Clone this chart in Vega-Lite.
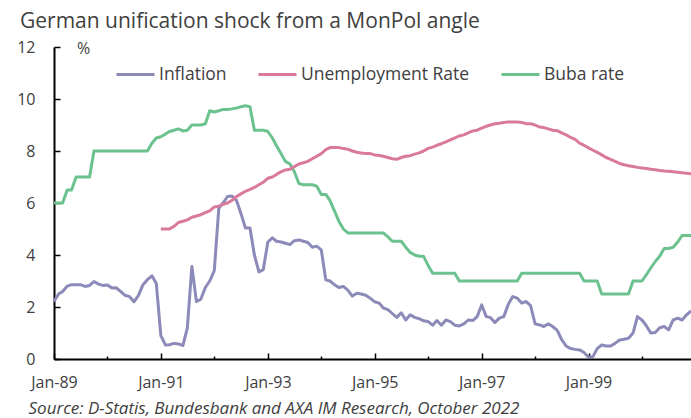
{
  "$schema": "https://vega.github.io/schema/vega-lite/v6.json",
  "width": 637,
  "height": 312,
  "autosize": "none",
  "padding": {"left": 54, "top": 47, "right": 0, "bottom": 59},
  "background": "white",
  "title": {
    "text": "German unification shock from a MonPol angle",
    "anchor": "start",
    "frame": "group",
    "dx": -34,
    "offset": 7,
    "font": "Open Sans",
    "fontSize": 21,
    "fontWeight": "normal",
    "color": "#404040"
  },
  "data": {
    "values": [
      {"d":"1989-01-01","Inflation":2.21,"Buba rate":6.0},
      {"d":"1989-02-01","Inflation":2.5,"Buba rate":6.0},
      {"d":"1989-03-01","Inflation":2.6,"Buba rate":6.0},
      {"d":"1989-04-01","Inflation":2.8,"Buba rate":6.5},
      {"d":"1989-05-01","Inflation":2.86,"Buba rate":6.5},
      {"d":"1989-06-01","Inflation":2.86,"Buba rate":7.0},
      {"d":"1989-07-01","Inflation":2.86,"Buba rate":7.0},
      {"d":"1989-08-01","Inflation":2.79,"Buba rate":7.0},
      {"d":"1989-09-01","Inflation":2.83,"Buba rate":7.0},
      {"d":"1989-10-01","Inflation":2.98,"Buba rate":8.0},
      {"d":"1989-11-01","Inflation":2.88,"Buba rate":8.0},
      {"d":"1989-12-01","Inflation":2.83,"Buba rate":8.0},
      {"d":"1990-01-01","Inflation":2.85,"Buba rate":8.0},
      {"d":"1990-02-01","Inflation":2.73,"Buba rate":8.0},
      {"d":"1990-03-01","Inflation":2.74,"Buba rate":8.0},
      {"d":"1990-04-01","Inflation":2.6,"Buba rate":8.0},
      {"d":"1990-05-01","Inflation":2.45,"Buba rate":8.0},
      {"d":"1990-06-01","Inflation":2.4,"Buba rate":8.0},
      {"d":"1990-07-01","Inflation":2.2,"Buba rate":8.0},
      {"d":"1990-08-01","Inflation":2.45,"Buba rate":8.0},
      {"d":"1990-09-01","Inflation":2.86,"Buba rate":8.0},
      {"d":"1990-10-01","Inflation":3.05,"Buba rate":8.0},
      {"d":"1990-11-01","Inflation":3.2,"Buba rate":8.3},
      {"d":"1990-12-01","Inflation":2.9,"Buba rate":8.5},
      {"d":"1991-01-01","Inflation":0.9,"Unemployment Rate":5.0,"Buba rate":8.55},
      {"d":"1991-02-01","Inflation":0.54,"Unemployment Rate":5.0,"Buba rate":8.65},
      {"d":"1991-03-01","Inflation":0.55,"Unemployment Rate":5.0,"Buba rate":8.75},
      {"d":"1991-04-01","Inflation":0.6,"Unemployment Rate":5.1,"Buba rate":8.8},
      {"d":"1991-05-01","Inflation":0.58,"Unemployment Rate":5.25,"Buba rate":8.85},
      {"d":"1991-06-01","Inflation":0.52,"Unemployment Rate":5.3,"Buba rate":8.77},
      {"d":"1991-07-01","Inflation":1.2,"Unemployment Rate":5.35,"Buba rate":8.8},
      {"d":"1991-08-01","Inflation":3.56,"Unemployment Rate":5.45,"Buba rate":9.0},
      {"d":"1991-09-01","Inflation":2.21,"Unemployment Rate":5.5,"Buba rate":9.0},
      {"d":"1991-10-01","Inflation":2.3,"Unemployment Rate":5.55,"Buba rate":9.0},
      {"d":"1991-11-01","Inflation":2.75,"Unemployment Rate":5.63,"Buba rate":9.05},
      {"d":"1991-12-01","Inflation":3.0,"Unemployment Rate":5.7,"Buba rate":9.55},
      {"d":"1992-01-01","Inflation":3.4,"Unemployment Rate":5.85,"Buba rate":9.5},
      {"d":"1992-02-01","Inflation":5.8,"Unemployment Rate":5.88,"Buba rate":9.55},
      {"d":"1992-03-01","Inflation":6.0,"Unemployment Rate":5.95,"Buba rate":9.6},
      {"d":"1992-04-01","Inflation":6.25,"Unemployment Rate":6.0,"Buba rate":9.6},
      {"d":"1992-05-01","Inflation":6.27,"Unemployment Rate":6.1,"Buba rate":9.62},
      {"d":"1992-06-01","Inflation":6.1,"Unemployment Rate":6.25,"Buba rate":9.65},
      {"d":"1992-07-01","Inflation":5.6,"Unemployment Rate":6.35,"Buba rate":9.7},
      {"d":"1992-08-01","Inflation":5.04,"Unemployment Rate":6.45,"Buba rate":9.74},
      {"d":"1992-09-01","Inflation":5.04,"Unemployment Rate":6.52,"Buba rate":9.7},
      {"d":"1992-10-01","Inflation":4.0,"Unemployment Rate":6.6,"Buba rate":8.8},
      {"d":"1992-11-01","Inflation":3.35,"Unemployment Rate":6.7,"Buba rate":8.8},
      {"d":"1992-12-01","Inflation":3.44,"Unemployment Rate":6.8,"Buba rate":8.8},
      {"d":"1993-01-01","Inflation":4.5,"Unemployment Rate":6.95,"Buba rate":8.75},
      {"d":"1993-02-01","Inflation":4.66,"Unemployment Rate":7.0,"Buba rate":8.5},
      {"d":"1993-03-01","Inflation":4.53,"Unemployment Rate":7.1,"Buba rate":8.2},
      {"d":"1993-04-01","Inflation":4.5,"Unemployment Rate":7.2,"Buba rate":7.9},
      {"d":"1993-05-01","Inflation":4.45,"Unemployment Rate":7.27,"Buba rate":7.6},
      {"d":"1993-06-01","Inflation":4.4,"Unemployment Rate":7.3,"Buba rate":7.5},
      {"d":"1993-07-01","Inflation":4.55,"Unemployment Rate":7.4,"Buba rate":7.2},
      {"d":"1993-08-01","Inflation":4.58,"Unemployment Rate":7.5,"Buba rate":6.75},
      {"d":"1993-09-01","Inflation":4.53,"Unemployment Rate":7.55,"Buba rate":6.7},
      {"d":"1993-10-01","Inflation":4.48,"Unemployment Rate":7.6,"Buba rate":6.7},
      {"d":"1993-11-01","Inflation":4.3,"Unemployment Rate":7.7,"Buba rate":6.7},
      {"d":"1993-12-01","Inflation":4.34,"Unemployment Rate":7.8,"Buba rate":6.65},
      {"d":"1994-01-01","Inflation":4.2,"Unemployment Rate":7.9,"Buba rate":6.33},
      {"d":"1994-02-01","Inflation":3.05,"Unemployment Rate":8.05,"Buba rate":6.33},
      {"d":"1994-03-01","Inflation":3.0,"Unemployment Rate":8.13,"Buba rate":6.1},
      {"d":"1994-04-01","Inflation":2.86,"Unemployment Rate":8.13,"Buba rate":5.7},
      {"d":"1994-05-01","Inflation":2.75,"Unemployment Rate":8.13,"Buba rate":5.3},
      {"d":"1994-06-01","Inflation":2.79,"Unemployment Rate":8.1,"Buba rate":5.0},
      {"d":"1994-07-01","Inflation":2.65,"Unemployment Rate":8.07,"Buba rate":4.85},
      {"d":"1994-08-01","Inflation":2.42,"Unemployment Rate":8.0,"Buba rate":4.85},
      {"d":"1994-09-01","Inflation":2.53,"Unemployment Rate":7.95,"Buba rate":4.85},
      {"d":"1994-10-01","Inflation":2.5,"Unemployment Rate":7.92,"Buba rate":4.85},
      {"d":"1994-11-01","Inflation":2.45,"Unemployment Rate":7.9,"Buba rate":4.85},
      {"d":"1994-12-01","Inflation":2.34,"Unemployment Rate":7.9,"Buba rate":4.85},
      {"d":"1995-01-01","Inflation":2.2,"Unemployment Rate":7.85,"Buba rate":4.85},
      {"d":"1995-02-01","Inflation":2.15,"Unemployment Rate":7.83,"Buba rate":4.85},
      {"d":"1995-03-01","Inflation":1.96,"Unemployment Rate":7.8,"Buba rate":4.85},
      {"d":"1995-04-01","Inflation":1.9,"Unemployment Rate":7.75,"Buba rate":4.7},
      {"d":"1995-05-01","Inflation":1.75,"Unemployment Rate":7.7,"Buba rate":4.53},
      {"d":"1995-06-01","Inflation":1.6,"Unemployment Rate":7.68,"Buba rate":4.53},
      {"d":"1995-07-01","Inflation":1.78,"Unemployment Rate":7.75,"Buba rate":4.53},
      {"d":"1995-08-01","Inflation":1.5,"Unemployment Rate":7.8,"Buba rate":4.3},
      {"d":"1995-09-01","Inflation":1.7,"Unemployment Rate":7.82,"Buba rate":4.1},
      {"d":"1995-10-01","Inflation":1.6,"Unemployment Rate":7.88,"Buba rate":4.0},
      {"d":"1995-11-01","Inflation":1.55,"Unemployment Rate":7.93,"Buba rate":3.95},
      {"d":"1995-12-01","Inflation":1.47,"Unemployment Rate":8.0,"Buba rate":3.95},
      {"d":"1996-01-01","Inflation":1.44,"Unemployment Rate":8.1,"Buba rate":3.6},
      {"d":"1996-02-01","Inflation":1.3,"Unemployment Rate":8.15,"Buba rate":3.3},
      {"d":"1996-03-01","Inflation":1.48,"Unemployment Rate":8.22,"Buba rate":3.3},
      {"d":"1996-04-01","Inflation":1.3,"Unemployment Rate":8.28,"Buba rate":3.3},
      {"d":"1996-05-01","Inflation":1.5,"Unemployment Rate":8.35,"Buba rate":3.3},
      {"d":"1996-06-01","Inflation":1.44,"Unemployment Rate":8.43,"Buba rate":3.3},
      {"d":"1996-07-01","Inflation":1.3,"Unemployment Rate":8.5,"Buba rate":3.3},
      {"d":"1996-08-01","Inflation":1.27,"Unemployment Rate":8.58,"Buba rate":3.0},
      {"d":"1996-09-01","Inflation":1.35,"Unemployment Rate":8.62,"Buba rate":3.0},
      {"d":"1996-10-01","Inflation":1.5,"Unemployment Rate":8.7,"Buba rate":3.0},
      {"d":"1996-11-01","Inflation":1.48,"Unemployment Rate":8.77,"Buba rate":3.0},
      {"d":"1996-12-01","Inflation":1.63,"Unemployment Rate":8.8,"Buba rate":3.0},
      {"d":"1997-01-01","Inflation":2.08,"Unemployment Rate":8.88,"Buba rate":3.0},
      {"d":"1997-02-01","Inflation":1.63,"Unemployment Rate":8.95,"Buba rate":3.0},
      {"d":"1997-03-01","Inflation":1.6,"Unemployment Rate":9.0,"Buba rate":3.0},
      {"d":"1997-04-01","Inflation":1.4,"Unemployment Rate":9.05,"Buba rate":3.0},
      {"d":"1997-05-01","Inflation":1.57,"Unemployment Rate":9.07,"Buba rate":3.0},
      {"d":"1997-06-01","Inflation":1.63,"Unemployment Rate":9.1,"Buba rate":3.0},
      {"d":"1997-07-01","Inflation":2.1,"Unemployment Rate":9.12,"Buba rate":3.0},
      {"d":"1997-08-01","Inflation":2.4,"Unemployment Rate":9.12,"Buba rate":3.0},
      {"d":"1997-09-01","Inflation":2.34,"Unemployment Rate":9.12,"Buba rate":3.0},
      {"d":"1997-10-01","Inflation":2.15,"Unemployment Rate":9.1,"Buba rate":3.3},
      {"d":"1997-11-01","Inflation":2.21,"Unemployment Rate":9.05,"Buba rate":3.3},
      {"d":"1997-12-01","Inflation":2.05,"Unemployment Rate":9.05,"Buba rate":3.3},
      {"d":"1998-01-01","Inflation":1.35,"Unemployment Rate":9.0,"Buba rate":3.3},
      {"d":"1998-02-01","Inflation":1.31,"Unemployment Rate":8.92,"Buba rate":3.3},
      {"d":"1998-03-01","Inflation":1.25,"Unemployment Rate":8.9,"Buba rate":3.3},
      {"d":"1998-04-01","Inflation":1.35,"Unemployment Rate":8.85,"Buba rate":3.3},
      {"d":"1998-05-01","Inflation":1.25,"Unemployment Rate":8.8,"Buba rate":3.3},
      {"d":"1998-06-01","Inflation":1.1,"Unemployment Rate":8.78,"Buba rate":3.3},
      {"d":"1998-07-01","Inflation":0.75,"Unemployment Rate":8.7,"Buba rate":3.3},
      {"d":"1998-08-01","Inflation":0.5,"Unemployment Rate":8.62,"Buba rate":3.3},
      {"d":"1998-09-01","Inflation":0.4,"Unemployment Rate":8.52,"Buba rate":3.3},
      {"d":"1998-10-01","Inflation":0.37,"Unemployment Rate":8.45,"Buba rate":3.3},
      {"d":"1998-11-01","Inflation":0.35,"Unemployment Rate":8.3,"Buba rate":3.3},
      {"d":"1998-12-01","Inflation":0.25,"Unemployment Rate":8.22,"Buba rate":3.0},
      {"d":"1999-01-01","Inflation":0.07,"Unemployment Rate":8.12,"Buba rate":3.0},
      {"d":"1999-02-01","Inflation":0.1,"Unemployment Rate":8.03,"Buba rate":3.0},
      {"d":"1999-03-01","Inflation":0.4,"Unemployment Rate":7.95,"Buba rate":3.0},
      {"d":"1999-04-01","Inflation":0.54,"Unemployment Rate":7.85,"Buba rate":2.5},
      {"d":"1999-05-01","Inflation":0.5,"Unemployment Rate":7.75,"Buba rate":2.5},
      {"d":"1999-06-01","Inflation":0.5,"Unemployment Rate":7.68,"Buba rate":2.5},
      {"d":"1999-07-01","Inflation":0.6,"Unemployment Rate":7.6,"Buba rate":2.5},
      {"d":"1999-08-01","Inflation":0.73,"Unemployment Rate":7.52,"Buba rate":2.5},
      {"d":"1999-09-01","Inflation":0.76,"Unemployment Rate":7.47,"Buba rate":2.5},
      {"d":"1999-10-01","Inflation":0.8,"Unemployment Rate":7.43,"Buba rate":2.5},
      {"d":"1999-11-01","Inflation":1.0,"Unemployment Rate":7.4,"Buba rate":3.0},
      {"d":"1999-12-01","Inflation":1.63,"Unemployment Rate":7.37,"Buba rate":3.0},
      {"d":"2000-01-01","Inflation":1.5,"Unemployment Rate":7.35,"Buba rate":3.0},
      {"d":"2000-02-01","Inflation":1.27,"Unemployment Rate":7.33,"Buba rate":3.25},
      {"d":"2000-03-01","Inflation":1.0,"Unemployment Rate":7.3,"Buba rate":3.5},
      {"d":"2000-04-01","Inflation":1.02,"Unemployment Rate":7.28,"Buba rate":3.75},
      {"d":"2000-05-01","Inflation":1.2,"Unemployment Rate":7.25,"Buba rate":3.95},
      {"d":"2000-06-01","Inflation":1.25,"Unemployment Rate":7.23,"Buba rate":4.25},
      {"d":"2000-07-01","Inflation":1.12,"Unemployment Rate":7.22,"Buba rate":4.25},
      {"d":"2000-08-01","Inflation":1.5,"Unemployment Rate":7.2,"Buba rate":4.3},
      {"d":"2000-09-01","Inflation":1.57,"Unemployment Rate":7.18,"Buba rate":4.5},
      {"d":"2000-10-01","Inflation":1.5,"Unemployment Rate":7.16,"Buba rate":4.75},
      {"d":"2000-11-01","Inflation":1.7,"Unemployment Rate":7.14,"Buba rate":4.75},
      {"d":"2000-12-01","Inflation":1.85,"Unemployment Rate":7.12,"Buba rate":4.75}
    ]
  },
  "transform": [
    {"fold": ["Inflation", "Unemployment Rate", "Buba rate"], "as": ["series", "value"]},
    {"filter": "isValid(datum.value)"}
  ],
  "mark": {"type": "line", "strokeWidth": 3, "strokeJoin": "round"},
  "encoding": {
    "x": {
      "field": "d",
      "type": "temporal",
      "scale": {
        "type": "utc",
        "nice": false,
        "domain": [
          {"year": 1989, "month": 1, "date": 1, "utc": true},
          {"year": 2000, "month": 12, "date": 1, "utc": true}
        ]
      },
      "axis": {
        "values": [
          {"year": 1989, "month": 1, "date": 1, "utc": true},
          {"year": 1990, "month": 1, "date": 1, "utc": true},
          {"year": 1991, "month": 1, "date": 1, "utc": true},
          {"year": 1992, "month": 1, "date": 1, "utc": true},
          {"year": 1993, "month": 1, "date": 1, "utc": true},
          {"year": 1994, "month": 1, "date": 1, "utc": true},
          {"year": 1995, "month": 1, "date": 1, "utc": true},
          {"year": 1996, "month": 1, "date": 1, "utc": true},
          {"year": 1997, "month": 1, "date": 1, "utc": true},
          {"year": 1998, "month": 1, "date": 1, "utc": true},
          {"year": 1999, "month": 1, "date": 1, "utc": true},
          {"year": 2000, "month": 1, "date": 1, "utc": true}
        ],
        "labelExpr": "utcyear(datum.value) % 2 == 1 ? utcFormat(datum.value, '%b-%y') : ''",
        "labelOverlap": false,
        "labelFlush": false,
        "labelFont": "Open Sans",
        "labelFontSize": 16,
        "labelColor": "#404040",
        "labelPadding": 21,
        "tickSize": {"condition": {"test": "utcyear(datum.value) % 2 == 1", "value": -6}, "value": -3},
        "tickColor": "#000000",
        "tickWidth": 1.5,
        "domainColor": "#000000",
        "domainWidth": 2,
        "grid": false,
        "title": "Source: D-Statis, Bundesbank and AXA IM Research, October 2022",
        "titleFont": "Open Sans",
        "titleFontStyle": "italic",
        "titleFontWeight": "normal",
        "titleFontSize": 17,
        "titleColor": "#404040",
        "titleAlign": "left",
        "titleBaseline": "middle",
        "titleX": -26,
        "titleY": 49
      }
    },
    "y": {
      "field": "value",
      "type": "quantitative",
      "scale": {"domain": [0, 12], "nice": false, "zero": false},
      "axis": {
        "values": [0, 2, 4, 6, 8, 10, 12],
        "labelFont": "Open Sans",
        "labelFontSize": 16,
        "labelColor": "#404040",
        "labelPadding": 25,
        "tickSize": -6,
        "tickColor": "#000000",
        "tickWidth": 1.5,
        "domainColor": "#000000",
        "domainWidth": 2,
        "grid": false,
        "title": "%",
        "titleFont": "Open Sans",
        "titleFontSize": 16,
        "titleFontWeight": "normal",
        "titleColor": "#404040",
        "titleAngle": 0,
        "titleAlign": "center",
        "titleBaseline": "middle",
        "titleX": 29,
        "titleY": 1
      }
    },
    "color": {
      "field": "series",
      "type": "nominal",
      "scale": {
        "domain": ["Inflation", "Unemployment Rate", "Buba rate"],
        "range": ["#8c8ab8", "#d97a9c", "#6cc28e"]
      },
      "legend": {
        "orient": "none",
        "legendX": 61,
        "legendY": 7,
        "direction": "horizontal",
        "title": null,
        "padding": 0,
        "symbolType": "stroke",
        "symbolSize": 1444,
        "symbolStrokeWidth": 3,
        "labelFont": "Open Sans",
        "labelFontSize": 17.5,
        "labelLimit": 400,
        "labelColor": "#404040",
        "labelOffset": 3,
        "columnPadding": 25
      }
    }
  },
  "config": {
    "view": {"stroke": null},
    "font": "Open Sans"
  }
}
